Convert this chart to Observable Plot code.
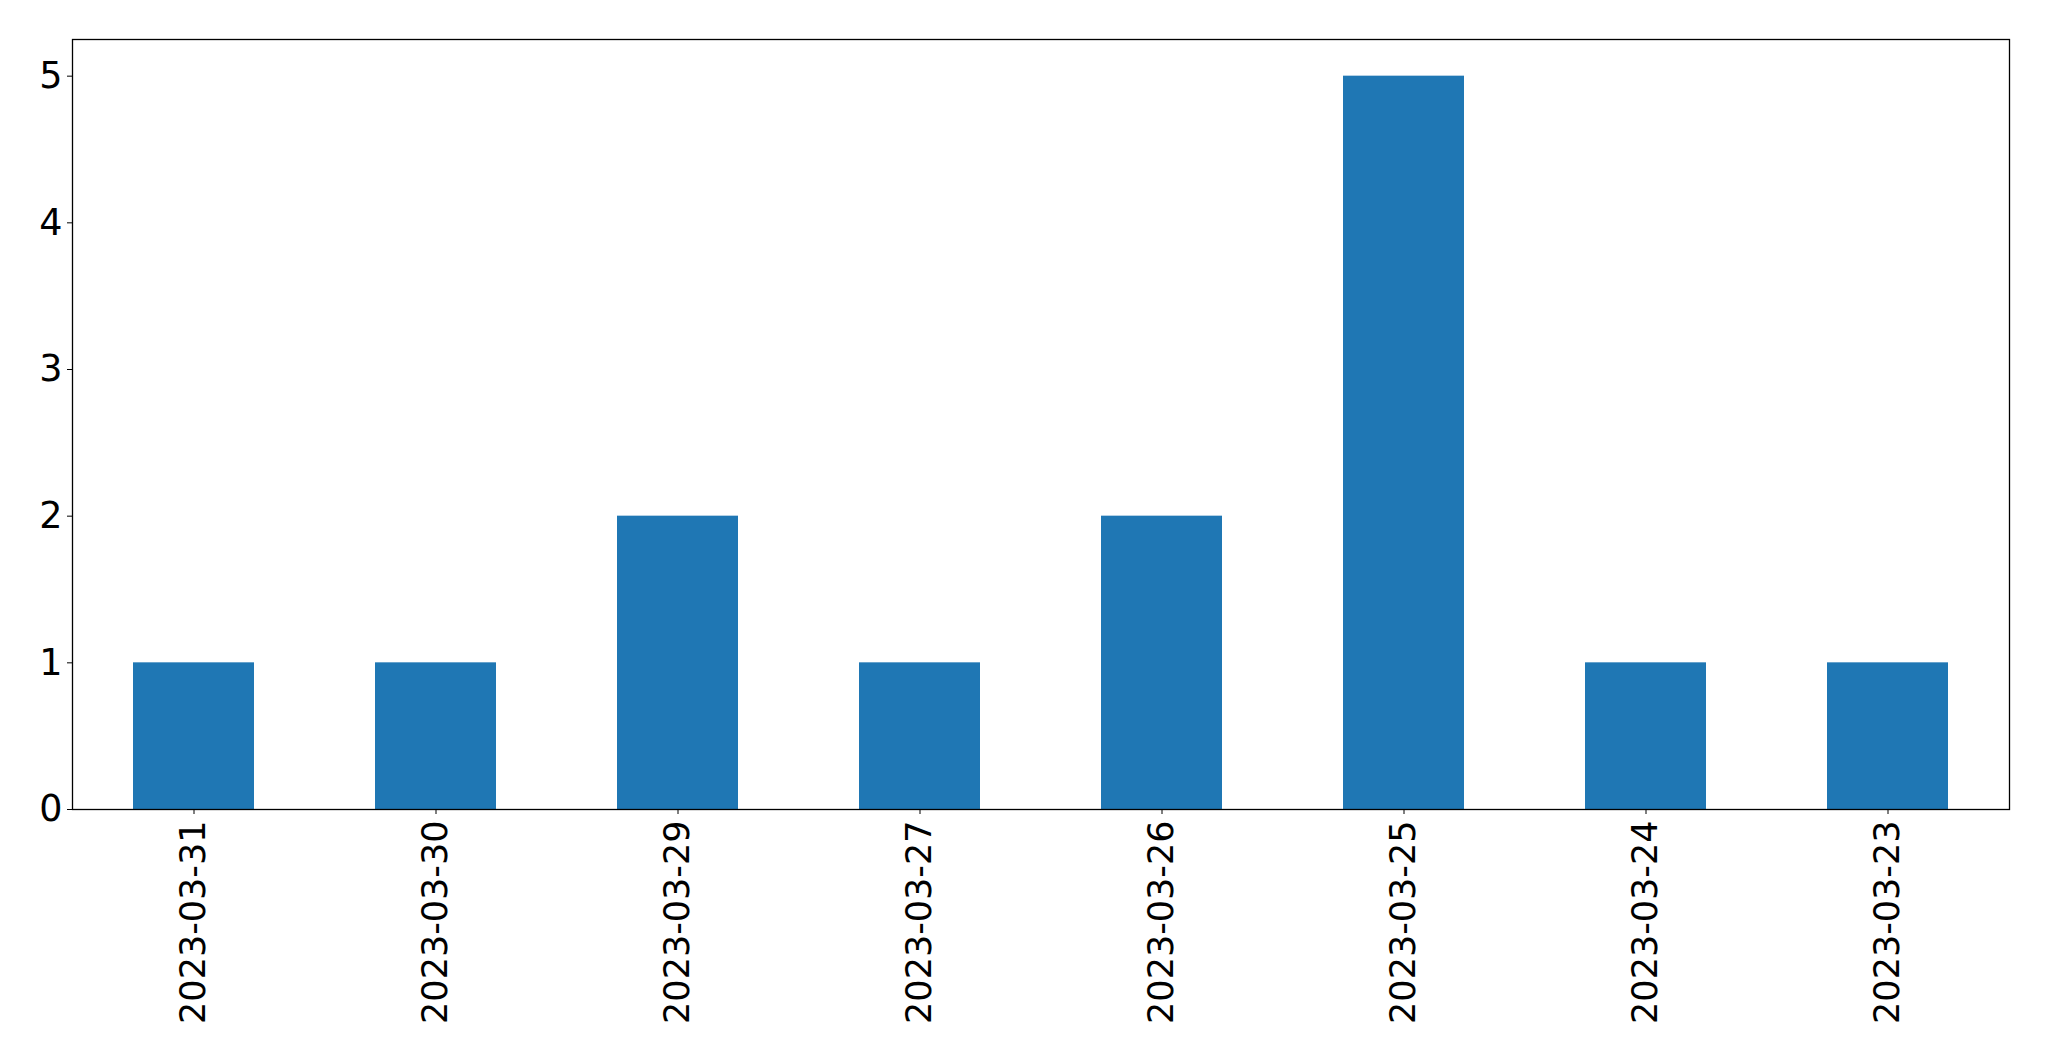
<!DOCTYPE html>
<html>
<head>
<meta charset="utf-8">
<script src="https://cdn.jsdelivr.net/npm/d3@7"></script>
<script src="https://cdn.jsdelivr.net/npm/@observablehq/plot@0.6"></script>
<style>
  html, body { margin: 0; padding: 0; background: #fff; }
  #chart svg { display: block; }
</style>
</head>
<body>
<div id="chart"></div>
<script>
const dates = ["2023-03-31", "2023-03-30", "2023-03-29", "2023-03-27", "2023-03-26", "2023-03-25", "2023-03-24", "2023-03-23"];
const counts = [1, 1, 2, 1, 2, 5, 1, 1];
const yTicks = [0, 1, 2, 3, 4, 5];

const data = dates.map((d, i) => ({date: d, count: counts[i]}));

const font = "'DejaVu Sans', sans-serif";

const chart = Plot.plot({
  width: 2049,
  height: 1061,
  marginLeft: 72,
  marginRight: 40,
  marginTop: 39,
  marginBottom: 252,
  style: {background: "#fff", color: "#000", fontFamily: font, fontSize: "35px"},
  x: {type: "band", domain: dates, paddingInner: 0.5, paddingOuter: 0.25, align: 0.5, label: null},
  y: {domain: [0, 5.25], label: null},
  marks: [
    Plot.barY(data, {x: "date", y: "count", fill: "#1f77b4"}),
    Plot.axisY({ticks: yTicks, tickSize: 5, tickPadding: 5, fontSize: 36.5, fontFamily: font, fill: "#000", stroke: "#000", label: null, tickFormat: d => String(d)}),
    Plot.axisX({tickSize: 5, tickPadding: 6, tickRotate: -90, fontSize: 35, fontFamily: font, fill: "#000", stroke: "#000", label: null}),
    Plot.frame({stroke: "#000", strokeWidth: 1.3})
  ]
});

document.getElementById("chart").appendChild(chart);
</script>
</body>
</html>
